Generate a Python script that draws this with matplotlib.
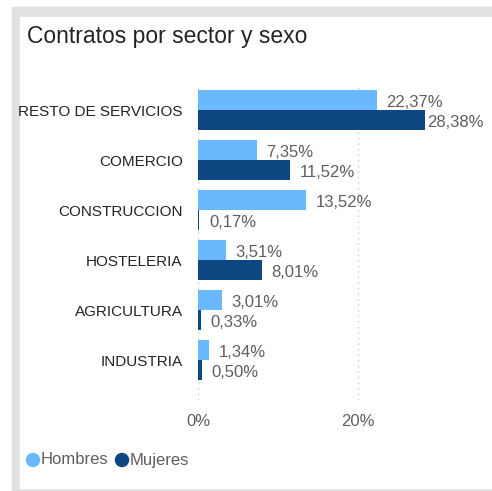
import matplotlib.pyplot as plt
from matplotlib.patches import Rectangle, Circle

# Data
sectores = ['RESTO DE SERVICIOS', 'COMERCIO', 'CONSTRUCCION', 'HOSTELERIA', 'AGRICULTURA', 'INDUSTRIA']
hombres = [22.37, 7.35, 13.52, 3.51, 3.01, 1.34]
mujeres = [28.38, 11.52, 0.17, 8.01, 0.33, 0.50]
ticks = [0, 20]
tick_labels = ['0%', '20%']

c_h = '#6CB8FF'
c_m = '#0D4680'
txt = '#605E5C'

plt.rcParams['font.family'] = ['Liberation Sans', 'DejaVu Sans']

W, H = 492, 491
fig = plt.figure(figsize=(W / 100, H / 100), dpi=100)

# panel frame / shadow
fig.patches.append(Rectangle((12 / W, 0), 480 / W, 1 - 7 / H, transform=fig.transFigure,
                             color='#E1E1E1', zorder=-2))
fig.patches.append(Rectangle((20 / W, 3 / H), 472 / W, 1 - 20 / H, transform=fig.transFigure,
                             color='white', zorder=-1))

fig.text(27 / W, 1 - 36 / H, 'Contratos por sector y sexo', fontsize=16.5, color='#252423',
         va='center', ha='left')

ax = fig.add_axes([198 / W, 1 - 400 / H, (470 - 198) / W, 315 / H])
ax.set_zorder(5)
ax.set_facecolor('none')
y = list(range(len(sectores)))
yh = [v - 0.2 for v in y]
ym = [v + 0.2 for v in y]
ax.barh(yh, hombres, height=0.4, color=c_h, zorder=2)
ax.barh(ym, mujeres, height=0.4, color=c_m, zorder=2)

# labels sit ~10px right of the bar, but are kept inside the card
for ys, vals in ((yh, hombres), (ym, mujeres)):
    for yy, v in zip(ys, vals):
        ax.text(min(v + 1.2, 28.6), yy + 0.05, f'{v:.2f}%'.replace('.', ','), va='center',
                ha='left', fontsize=12, color=txt)

ax.set_xlim(0, 34)
ax.set_ylim(5.8, -0.5)
ax.set_yticks(y)
ax.set_yticklabels(sectores, fontsize=11, color='#252423')
ax.set_xticks(ticks)
ax.set_xticklabels(tick_labels, fontsize=12, color=txt)
ax.tick_params(length=0)
ax.tick_params(axis='y', pad=11)
ax.tick_params(axis='x', pad=10)
ax.grid(axis='x', linestyle=(0, (1, 3)), color='#C8C8C8', linewidth=1, zorder=0)
for s in ax.spines.values():
    s.set_visible(False)

# legend
fig.patches.append(Circle((33 / W, 1 - 460 / H), 6.5 / W, transform=fig.transFigure, color=c_h))
fig.text(41 / W, 1 - 460 / H, 'Hombres', fontsize=12, color=txt, va='center', ha='left')
fig.patches.append(Circle((122 / W, 1 - 460 / H), 6.5 / W, transform=fig.transFigure, color=c_m))
fig.text(130 / W, 1 - 460 / H, 'Mujeres', fontsize=12, color=txt, va='center', ha='left')

fig.savefig('out.png', dpi=100)
